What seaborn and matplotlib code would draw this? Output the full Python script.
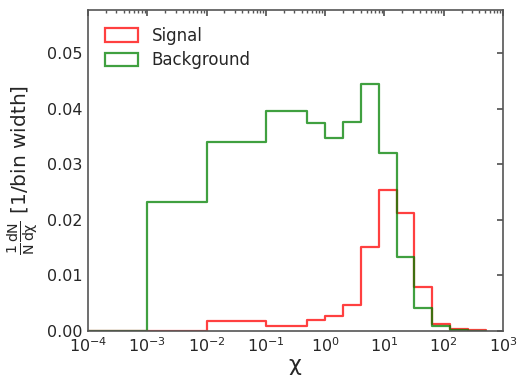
import numpy as np
import pandas as pd
import matplotlib
matplotlib.use("Agg")
import matplotlib.pyplot as plt
import seaborn as sns
from matplotlib.patches import Patch

# bin edges (chi)
edges = [1e-5, 1e-3, 1e-2, 1e-1, 0.5, 1, 2, 4, 8, 16, 32, 64, 128, 256, 512]
signal = [0.0, 0.0, 0.0018, 0.0009, 0.0019, 0.0026, 0.0047, 0.0152, 0.0254,
          0.0213, 0.0079, 0.0013, 0.0004, 0.0001]
background = [0.0, 0.0232, 0.0341, 0.0396, 0.0375, 0.0348, 0.0376, 0.0444,
              0.0320, 0.0134, 0.0042, 0.0008, 0.0002, 0.00005]
labels = ["Signal", "Background"]
xticks = [1e-4, 1e-3, 1e-2, 1e-1, 1, 10, 100, 1000]

sns.set_theme(style="white")
plt.rcParams["font.family"] = ["DejaVu Sans"]
plt.rcParams["mathtext.default"] = "regular"
plt.rcParams["text.color"] = "#262626"

log_edges = [float(v) for v in np.log10(edges)]
centers = np.sqrt(np.array(edges[:-1]) * np.array(edges[1:]))
df_s = pd.DataFrame({"x": centers, "w": signal})
df_b = pd.DataFrame({"x": centers, "w": background})

fig = plt.figure(figsize=(5.18, 3.83), dpi=100)
ax = fig.add_axes([0.170, 0.136, 0.801, 0.838])

col_s = "red"
col_b = "green"
lw = 1.6
sns.histplot(data=df_s, x="x", weights="w", bins=log_edges, log_scale=True,
             element="step", fill=False, stat="count", color=col_s,
             alpha=0.75, linewidth=lw, ax=ax)
sns.histplot(data=df_b, x="x", weights="w", bins=log_edges, log_scale=True,
             element="step", fill=False, stat="count", color=col_b,
             alpha=0.75, linewidth=lw, ax=ax)

ax.set_xlim(1e-4, 1e3)
ax.set_ylim(0, 0.0578)
ax.set_xticks(xticks)
ax.set_yticks([0, 0.01, 0.02, 0.03, 0.04, 0.05])
ax.set_yticklabels(["0.00", "0.01", "0.02", "0.03", "0.04", "0.05"])
ax.set_xlabel(r"$\chi$", fontsize=16, color="#262626", labelpad=1)
ax.set_ylabel(r"$\frac{1}{N}\frac{dN}{d\chi}$ [1/bin width]", fontsize=14.5,
              color="#262626", labelpad=4)

for s in ax.spines.values():
    s.set_color("#555555")
    s.set_linewidth(1.2)
ax.tick_params(axis="both", which="both", direction="in", top=True,
               right=True, colors="#555555", labelcolor="#262626",
               labelsize=11.5)
ax.tick_params(which="major", length=4)
ax.tick_params(axis="y", which="major", pad=4)
ax.tick_params(axis="x", which="major", pad=4)
ax.tick_params(which="minor", length=2.5)
ax.xaxis.set_minor_locator(matplotlib.ticker.LogLocator(base=10, subs=np.arange(2, 10), numticks=20))

handles = [Patch(facecolor="none", edgecolor=col_s, alpha=0.75, linewidth=lw),
           Patch(facecolor="none", edgecolor=col_b, alpha=0.75, linewidth=lw)]
ax.legend(handles, labels, loc="upper left", frameon=False, fontsize=12,
          handlelength=2.0, handleheight=0.9, borderaxespad=0.6,
          labelspacing=0.4)

fig.savefig("out.png", dpi=100)
